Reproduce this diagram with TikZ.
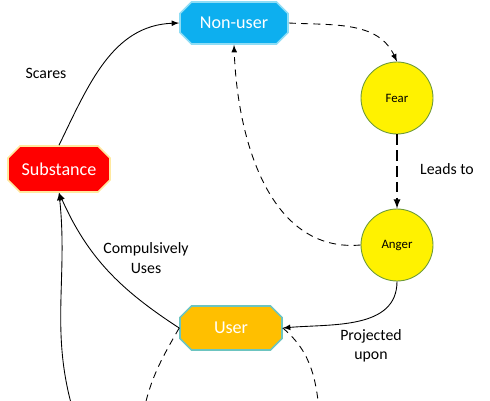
\documentclass[tikz,border=0pt]{standalone}
\usepackage{fontspec}
\setmainfont{Carlito}
\usetikzlibrary{shapes.misc}
\definecolor{nonuserblue}{HTML}{0DAFEF}
\definecolor{userorange}{HTML}{FFBF00}
\definecolor{circleline}{HTML}{6E9A3A}
\definecolor{glowcyan}{HTML}{8FDDF5}
\definecolor{glowyellow}{HTML}{FFE9A0}
\definecolor{glowteal}{HTML}{6CC4C0}

\begin{document}
\begin{tikzpicture}[x=0.02cm,y=0.02cm,
		octbox/.style={chamfered rectangle,chamfered rectangle xsep=0.2cm,line width=0.9pt,text=white,inner sep=0pt,font=\fontsize{10.3}{12}\selectfont},
		emotion/.style={circle,fill=yellow,draw=circleline,line width=0.5pt,minimum size=1.44cm,inner sep=0pt,font=\fontsize{7.3}{9}\selectfont},
		lbl/.style={align=center,font=\fontsize{9}{11}\selectfont},
		link/.style={-latex,line width=0.5pt},
		dashlink/.style={-latex,line width=0.5pt,dash pattern=on 4pt off 3pt}]
		\clip (0,0) rectangle (490,400);
		
		\node[octbox,fill=nonuserblue,draw=glowcyan,minimum width=2.16cm,minimum height=0.84cm] (nonuser) at (234,377) {Non-user};
		\node[octbox,fill=red,draw=glowyellow,minimum width=2.04cm,minimum height=0.92cm] (substance) at (59,231) {Substance};
		\node[octbox,fill=userorange,draw=glowteal,minimum width=2.04cm,minimum height=0.88cm] (user) at (231,72) {User};
		\node[emotion] (fear) at (397,302) {Fear};
		\node[emotion] (anger) at (397,155) {Anger};
		
		\coordinate (belowsub) at (76,-20);
		\coordinate (belowleft) at (142,-20);
		\coordinate (belowright) at (320,-20);
		
		\draw[link] (substance.north) to[out=64,in=182] (nonuser.west);
		\draw[dashlink] (nonuser.east) to[out=-3,in=115] (fear.north);
		\draw[-latex,line width=0.8pt,dash pattern=on 6pt off 3pt] (fear.south) -- (anger.north);
		\draw[dashlink] (anger.west) to[out=185,in=-88] (nonuser.south);
		\draw[link] (anger.south) to[out=-90,in=5] (user.east);
		\draw[link] (user.west) to[out=147,in=-66] (substance.south);
		\draw[link] (belowsub) to[out=108,in=-84] (substance.south);
		\draw[line width=0.5pt,dash pattern=on 4pt off 3pt] (user.west) to[out=240,in=80] (belowleft);
		\draw[line width=0.5pt,dash pattern=on 4pt off 3pt] (user.east) to[out=-40,in=95] (belowright);
		
		\node[lbl] (scares) at (46,327) {Scares};
		\node[lbl] (leads) at (447,231) {Leads to};
		\node[lbl] (compulsive) at (146,142) {Compulsively\\Uses};
		\node[lbl] (projected) at (371,54) {Projected\\upon};
	\end{tikzpicture}
\end{document}
